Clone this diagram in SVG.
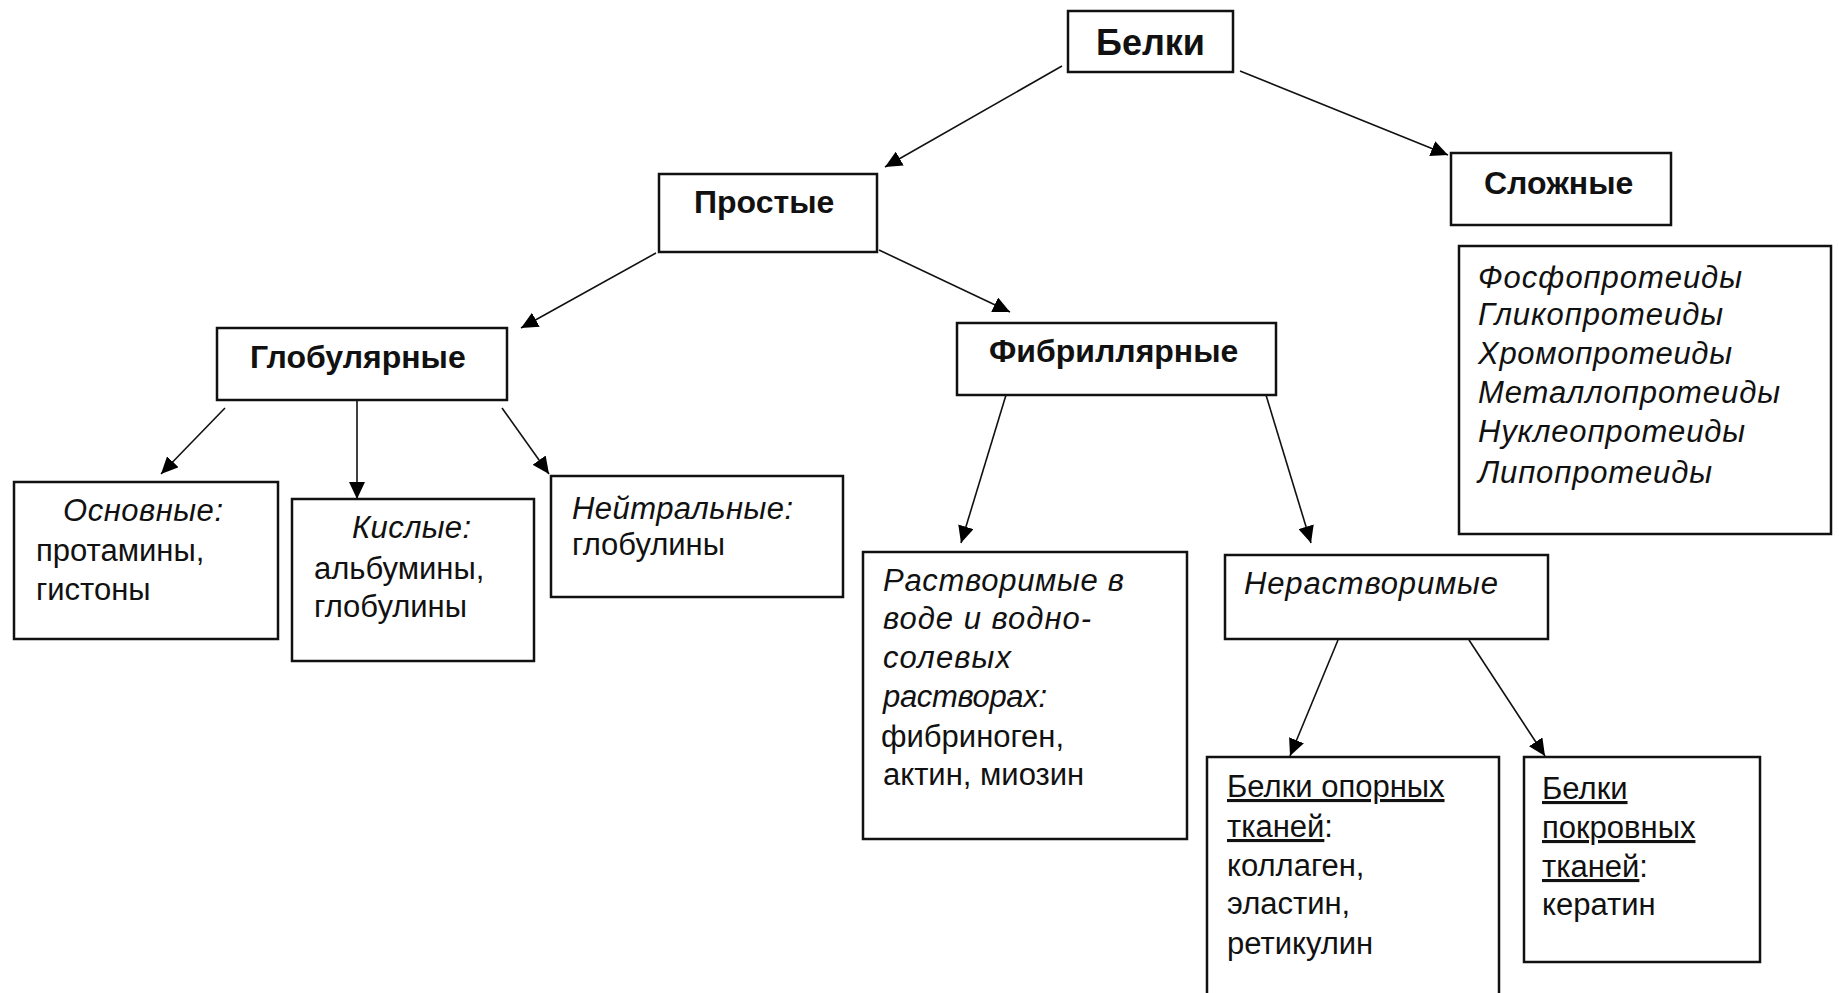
<svg xmlns="http://www.w3.org/2000/svg" width="1839" height="993" viewBox="0 0 1839 993">
  <defs>
    <marker id="arrow" markerUnits="userSpaceOnUse" markerWidth="18" markerHeight="16" refX="17" refY="8" orient="auto">
      <path d="M0,0 L17,8 L0,16 z" fill="#000"/>
    </marker>
    <style>
      .box { fill: #fff; stroke: #111; stroke-width: 2.5; }
      .edge { stroke: #111; stroke-width: 1.6; fill: none; marker-end: url(#arrow); }
      text { font-family: "Liberation Sans", Arial, sans-serif; fill: #111; }
      .t { font-size: 32px; font-weight: bold; }
      .big { font-size: 36px; }
      .r { font-size: 31px; }
      .i { font-size: 31px; font-style: italic; }
      .u { text-decoration: underline; }
    </style>
  </defs>
  <rect width="1839" height="993" fill="#fff"/>

  <!-- connectors -->
  <g id="connectors">
    <line class="edge" x1="1062" y1="66" x2="885" y2="167"/>
    <line class="edge" x1="1240" y1="71" x2="1448" y2="155"/>
    <line class="edge" x1="656" y1="253" x2="521" y2="328"/>
    <line class="edge" x1="879" y1="250" x2="1010" y2="312"/>
    <line class="edge" x1="225" y1="408" x2="161" y2="474"/>
    <line class="edge" x1="357" y1="401" x2="357" y2="499"/>
    <line class="edge" x1="502" y1="408" x2="549" y2="474"/>
    <line class="edge" x1="1006" y1="395" x2="961" y2="543"/>
    <line class="edge" x1="1266" y1="395" x2="1311" y2="543"/>
    <line class="edge" x1="1338" y1="640" x2="1290" y2="756"/>
    <line class="edge" x1="1469" y1="640" x2="1545" y2="756"/>
  </g>

  <!-- root -->
  <g id="node-belki">
    <rect class="box" x="1068" y="11" width="165" height="61"/>
    <text class="t big" x="1096" y="55">Белки</text>
  </g>

  <!-- level 1 -->
  <g id="node-prostye">
    <rect class="box" x="659" y="174" width="218" height="78"/>
    <text class="t" x="694" y="213">Простые</text>
  </g>
  <g id="node-slozhnye">
    <rect class="box" x="1451" y="153" width="220" height="72"/>
    <text class="t" x="1484" y="194">Сложные</text>
  </g>
  <g id="node-slozhnye-list">
    <rect class="box" x="1459" y="246" width="372" height="288"/>
    <text class="i" x="1478" y="288" textLength="264">Фосфопротеиды</text>
    <text class="i" x="1478" y="325" textLength="245">Гликопротеиды</text>
    <text class="i" x="1478" y="364" textLength="254">Хромопротеиды</text>
    <text class="i" x="1478" y="403" textLength="302">Металлопротеиды</text>
    <text class="i" x="1478" y="442" textLength="267">Нуклеопротеиды</text>
    <text class="i" x="1478" y="483" textLength="234">Липопротеиды</text>
  </g>

  <!-- level 2 -->
  <g id="node-globulyarnye">
    <rect class="box" x="217" y="328" width="290" height="72"/>
    <text class="t" x="250" y="368">Глобулярные</text>
  </g>
  <g id="node-fibrillyarnye">
    <rect class="box" x="957" y="323" width="319" height="72"/>
    <text class="t" x="989" y="362">Фибриллярные</text>
  </g>

  <!-- globular subtypes -->
  <g id="node-osnovnye">
    <rect class="box" x="14" y="482" width="264" height="157"/>
    <text class="i" x="63" y="521" textLength="160">Основные:</text>
    <text class="r" x="36" y="561">протамины,</text>
    <text class="r" x="36" y="600">гистоны</text>
  </g>
  <g id="node-kislye">
    <rect class="box" x="292" y="499" width="242" height="162"/>
    <text class="i" x="352" y="538" textLength="119">Кислые:</text>
    <text class="r" x="314" y="579">альбумины,</text>
    <text class="r" x="314" y="617">глобулины</text>
  </g>
  <g id="node-neitralnye">
    <rect class="box" x="551" y="476" width="292" height="121"/>
    <text class="i" x="572" y="519" textLength="221">Нейтральные:</text>
    <text class="r" x="572" y="555">глобулины</text>
  </g>

  <!-- fibrillar subtypes -->
  <g id="node-rastvorimye">
    <rect class="box" x="863" y="552" width="324" height="287"/>
    <text class="i" x="883" y="591" textLength="241">Растворимые в</text>
    <text class="i" x="883" y="629" textLength="208">воде и водно-</text>
    <text class="i" x="883" y="668" textLength="128">солевых</text>
    <text class="i" x="883" y="707" textLength="164">растворах:</text>
    <text class="r" x="881" y="747">фибриноген,</text>
    <text class="r" x="883" y="785">актин, миозин</text>
  </g>
  <g id="node-nerastvorimye">
    <rect class="box" x="1225" y="555" width="323" height="84"/>
    <text class="i" x="1244" y="594" textLength="254">Нерастворимые</text>
  </g>

  <!-- insoluble subtypes -->
  <g id="node-opornye">
    <rect class="box" x="1207" y="757" width="292" height="250"/>
    <text class="r" x="1227" y="797"><tspan class="u">Белки опорных</tspan></text>
    <text class="r" x="1227" y="837"><tspan class="u">тканей</tspan>:</text>
    <text class="r" x="1227" y="876">коллаген,</text>
    <text class="r" x="1227" y="914">эластин,</text>
    <text class="r" x="1227" y="954">ретикулин</text>
  </g>
  <g id="node-pokrovnye">
    <rect class="box" x="1524" y="757" width="236" height="205"/>
    <text class="r" x="1542" y="799"><tspan class="u">Белки</tspan></text>
    <text class="r" x="1542" y="838"><tspan class="u">покровных</tspan></text>
    <text class="r" x="1542" y="877"><tspan class="u">тканей</tspan>:</text>
    <text class="r" x="1542" y="915">кератин</text>
  </g>
</svg>
